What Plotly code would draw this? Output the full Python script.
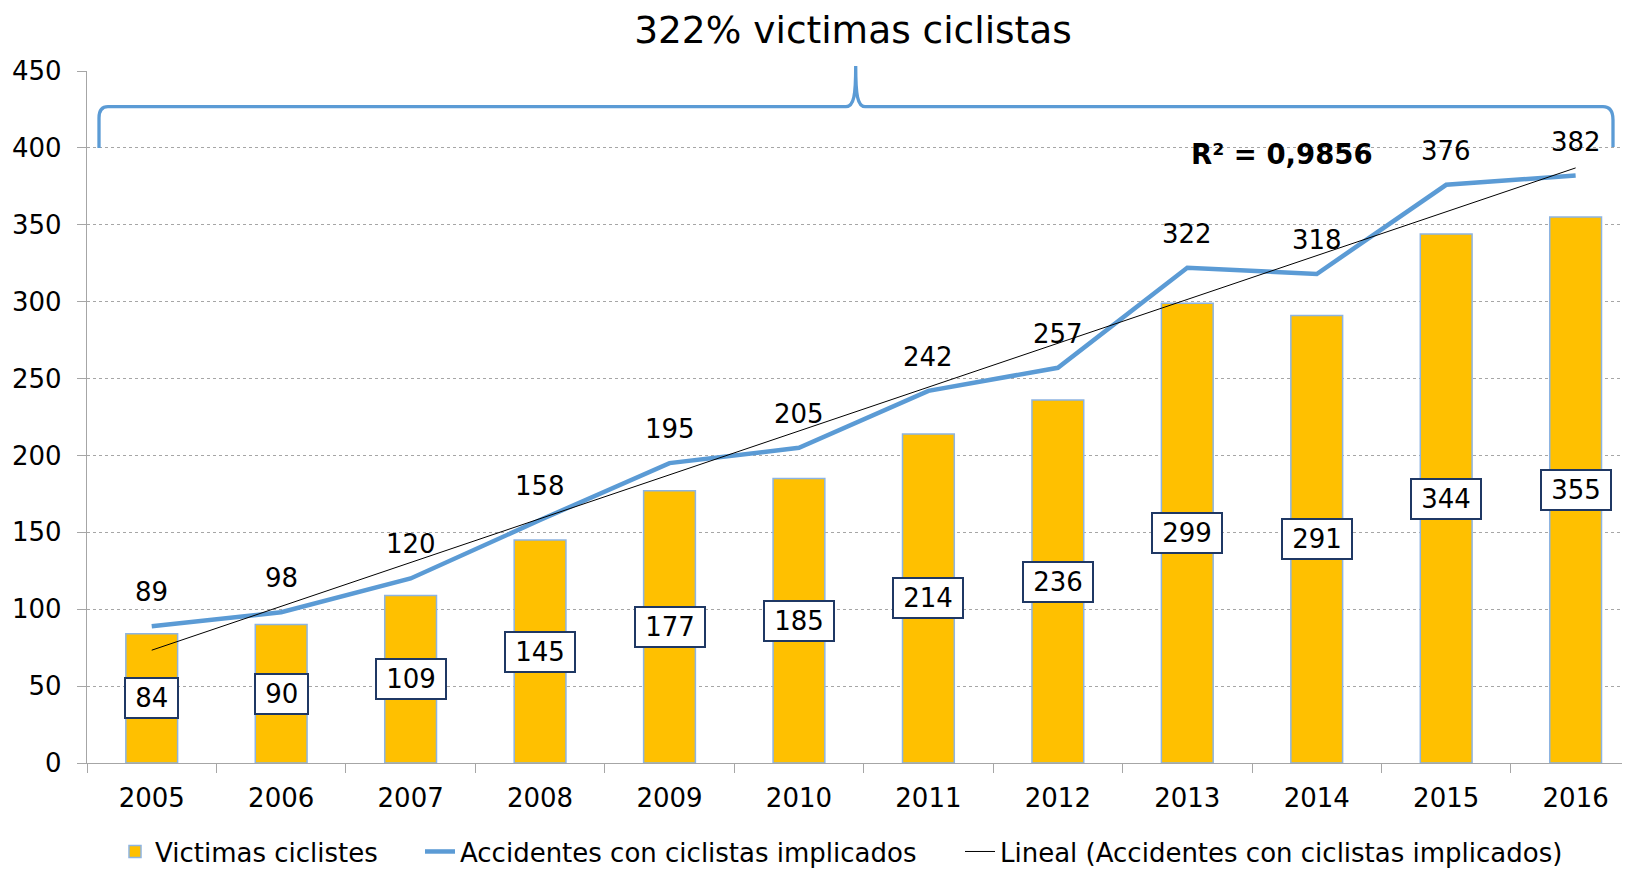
import numpy as np
import plotly.graph_objects as go

# ---- data ----
years = ["2005", "2006", "2007", "2008", "2009", "2010", "2011", "2012", "2013", "2014", "2015", "2016"]
victimas = [84, 90, 109, 145, 177, 185, 214, 236, 299, 291, 344, 355]
accidentes = [89, 98, 120, 158, 195, 205, 242, 257, 322, 318, 376, 382]
title_text = "322% victimas ciclistas"
r2_text = "R² = 0,9856"
name_bar = "Victimas ciclistes"
name_line = "Accidentes con ciclistas implicados"
name_trend = "Lineal (Accidentes con ciclistas implicados)"

# linear trend (least squares) on the accident series
idx = np.arange(len(years))
slope, intercept = np.polyfit(idx, accidentes, 1)
trend = slope * idx + intercept

FONT = "DejaVu Sans"
BLUE = "#5B9BD5"
GOLD = "#FFC000"
GRID = "#A6A6A6"

# page body has an 8px margin: figure is sized/offset so the page matches 1630x869
OFF = 8
W, H = 1630 - OFF, 869 - OFF

fig = go.Figure()
fig.add_trace(go.Bar(
    x=years, y=victimas, name=name_bar, width=0.4, legendwidth=260,
    marker=dict(color=GOLD, line=dict(color="#8DB4E2", width=1.5)),
))
fig.add_trace(go.Scatter(
    x=years, y=accidentes, name=name_line, mode="lines", legendwidth=495,
    line=dict(color=BLUE, width=4.5),
))
fig.add_trace(go.Scatter(
    x=years, y=trend, name=name_trend, mode="lines",
    line=dict(color="black", width=1),
))

for i, v in enumerate(victimas):
    fig.add_annotation(
        x=i, y=v / 2, xref="x", yref="y", text="\u2009" + str(v) + "\u2009",
        showarrow=False, bgcolor="white", bordercolor="#1F3864", borderwidth=2,
        borderpad=4, font=dict(family=FONT, size=26, color="black"),
    )
for i, v in enumerate(accidentes):
    fig.add_annotation(
        x=i, y=v, xref="x", yref="y", text=str(v), showarrow=False,
        yshift=34, font=dict(family=FONT, size=26, color="black"),
    )
fig.add_annotation(
    x=years.index("2013"), y=396, xref="x", yref="y", text="<b>" + r2_text + "</b>",
    showarrow=False, xshift=95, font=dict(family=FONT, size=27.5, color="black"),
)

# brace (paper coordinates of the plot area; pixel values are screen coords)
L, R, T, B = 87.0, 1630.0, 71.0, 763.5
def px(x):
    return (x - L) / (R - L)
def py(y):
    return (B - y) / (B - T)
path = (
    f"M {px(99):.5f},{py(148):.5f} L {px(99):.5f},{py(118):.5f} "
    f"Q {px(99):.5f},{py(106.7):.5f} {px(108):.5f},{py(106.7):.5f} "
    f"L {px(846):.5f},{py(106.7):.5f} "
    f"C {px(854):.5f},{py(106.7):.5f} {px(855.7):.5f},{py(95):.5f} {px(855.7):.5f},{py(66):.5f} "
    f"C {px(855.7):.5f},{py(95):.5f} {px(857.5):.5f},{py(106.7):.5f} {px(865):.5f},{py(106.7):.5f} "
    f"L {px(1603):.5f},{py(106.7):.5f} "
    f"Q {px(1613):.5f},{py(106.7):.5f} {px(1613):.5f},{py(120):.5f} "
    f"L {px(1613):.5f},{py(147):.5f}"
)
fig.add_shape(type="path", xref="paper", yref="paper", path=path,
              line=dict(color=BLUE, width=3.3), layer="above")

fig.update_layout(
    width=W, height=H,
    margin=dict(l=L - OFF, r=0, t=T - OFF, b=869 - B, autoexpand=False),
    paper_bgcolor="white", plot_bgcolor="white",
    font=dict(family=FONT, size=26, color="black"),
    title=dict(text=title_text, x=(853 - OFF) / W, xref="container", xanchor="center",
               y=1 - (30 - OFF) / H, yref="container", yanchor="middle",
               font=dict(family=FONT, size=37.5, color="black")),
    xaxis=dict(type="category", range=[-0.5, 11.42], showline=True, linecolor=GRID,
               linewidth=1.3, ticks="outside", tickson="boundaries", ticklen=9,
               tickcolor=GRID, showgrid=False, tickfont=dict(size=26),
               ticklabelstandoff=12, automargin=False),
    yaxis=dict(range=[0, 450], dtick=50, showline=True, linecolor=GRID, linewidth=1.3,
               ticks="outside", ticklen=9, tickcolor=GRID, showgrid=True,
               gridcolor=GRID, griddash="dot", gridwidth=1, zeroline=False,
               tickfont=dict(size=26), ticklabelstandoff=10, automargin=False),
    legend=dict(orientation="h", x=(115 - L) / (R - L), xanchor="left", y=-0.128,
                yanchor="middle", font=dict(family=FONT, size=26), itemwidth=30,
                traceorder="normal"),
    showlegend=True, bargap=0.6,
)

fig.write_html("out.html")
